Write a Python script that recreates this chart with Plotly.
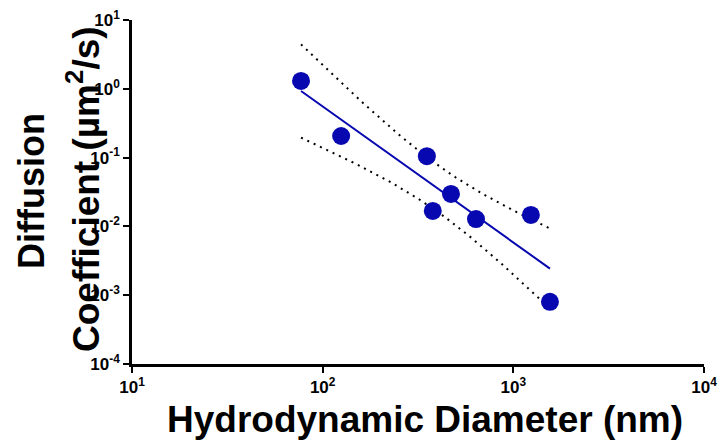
import numpy as np
import plotly.graph_objects as go

# Data (hydrodynamic diameter in nm, diffusion coefficient in um^2/s)
diameter_nm = [77, 125, 352, 471, 378, 637, 1236, 1556]
diff_coef = [1.3, 0.206, 0.105, 0.0296, 0.0168, 0.0128, 0.0147, 0.0008]

x_tick_vals = [10, 100, 1000, 10000]
x_tick_text = ["<b>10<sup>1</sup></b>", "<b>10<sup>2</sup></b>",
               "<b>10<sup>3</sup></b>", "<b>10<sup>4</sup></b>"]
y_tick_vals = [10, 1, 0.1, 0.01, 0.001, 0.0001]
y_tick_text = ["<b>10<sup>1</sup></b>", "<b>10<sup>0</sup></b>", "<b>10<sup>-1</sup></b>",
               "<b>10<sup>-2</sup></b>", "<b>10<sup>-3</sup></b>", "<b>10<sup>-4</sup></b>"]

t_crit = 2.447  # two-sided 95%, df = n - 2 = 6

# Log-log linear regression with 95% confidence band
lx = np.log10(diameter_nm)
ly = np.log10(diff_coef)
n = len(lx)
slope, intercept = np.polyfit(lx, ly, 1)
resid = ly - (slope * lx + intercept)
s = np.sqrt(np.sum(resid ** 2) / (n - 2))
mx = lx.mean()
sxx = np.sum((lx - mx) ** 2)
gx = np.linspace(lx.min(), lx.max(), 80)
gy = slope * gx + intercept
half = t_crit * s * np.sqrt(1.0 / n + (gx - mx) ** 2 / sxx)

BLUE = "#0808B0"
FONT = "Arial, 'Liberation Sans', sans-serif"

fig = go.Figure()
fig.add_trace(go.Scatter(x=10 ** gx, y=10 ** (gy + half), mode="lines",
                         line=dict(color="black", width=2, dash="2px,5px"),
                         hoverinfo="skip", showlegend=False))
fig.add_trace(go.Scatter(x=10 ** gx, y=10 ** (gy - half), mode="lines",
                         line=dict(color="black", width=2, dash="2px,5px"),
                         hoverinfo="skip", showlegend=False))
fig.add_trace(go.Scatter(x=10 ** gx, y=10 ** gy, mode="lines",
                         line=dict(color=BLUE, width=2),
                         showlegend=False))
fig.add_trace(go.Scatter(x=diameter_nm, y=diff_coef, mode="markers",
                         marker=dict(color=BLUE, size=18, line=dict(width=0)),
                         showlegend=False))

axis_common = dict(showgrid=False, zeroline=False, showline=True,
                   linecolor="black", linewidth=2.5, ticks="outside",
                   ticklen=6, tickwidth=2, tickcolor="black",
                   tickfont=dict(family=FONT, size=17, color="black"),
                   automargin=False)

fig.update_xaxes(type="log", range=[1, 4], tickvals=x_tick_vals,
                 ticktext=x_tick_text, **axis_common)
fig.update_yaxes(type="log", range=[-4, 1], tickvals=y_tick_vals,
                 ticktext=y_tick_text, **axis_common)

title_font = dict(family=FONT, size=36, color="black")
fig.add_annotation(text="<b>Hydrodynamic Diameter (nm)</b>", xref="paper", yref="paper",
                   x=(425 - 132) / 572, y=-0.16, xanchor="center", yanchor="middle",
                   showarrow=False, font=dict(family=FONT, size=37, color="black"))
fig.add_annotation(text="<b>Diffusion</b>", xref="paper", yref="paper",
                   x=(31 - 132) / 572, y=(364 - 191) / 344, xanchor="center", yanchor="middle",
                   textangle=-90, showarrow=False, font=title_font)
fig.add_annotation(text="<b>Coefficient (\u00b5m<sup>2</sup>/s)</b>", xref="paper", yref="paper",
                   x=(83 - 132) / 572, y=(364 - 189) / 344, xanchor="center", yanchor="middle",
                   textangle=-90, showarrow=False, font=dict(family=FONT, size=37, color="black"))

fig.update_layout(template="none", width=719, height=442,
                  margin=dict(l=132, r=15, t=20, b=78),
                  paper_bgcolor="white", plot_bgcolor="white",
                  font=dict(family=FONT, color="black"))

fig.write_html("out.html")
